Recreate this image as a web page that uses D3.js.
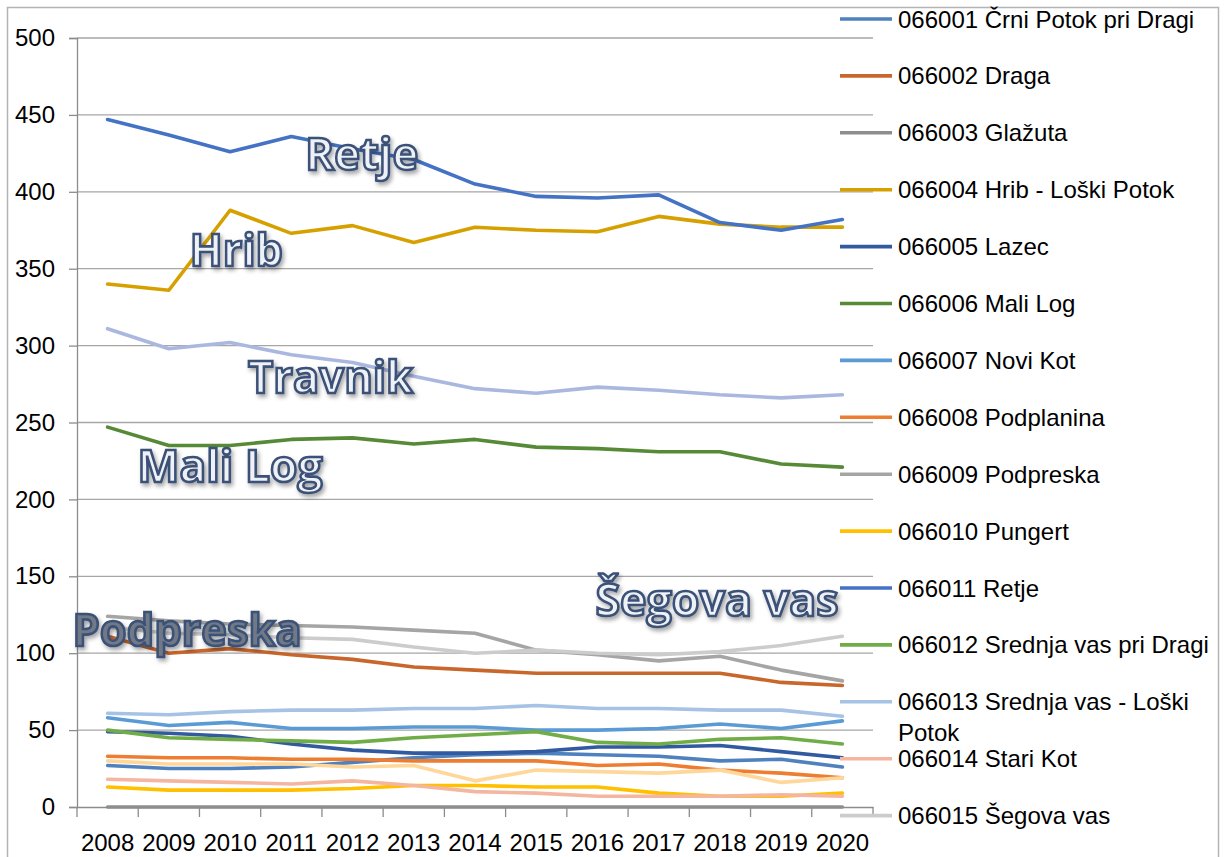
<!DOCTYPE html>
<html>
<head>
  <meta charset="utf-8">
  <title>Prebivalci po naseljih</title>
  <script src="https://cdnjs.cloudflare.com/ajax/libs/d3/7.8.5/d3.min.js"></script>
  <style>
    body { margin: 0; background: #fff; }
    text { font-family: "Liberation Sans", Arial, sans-serif; }
  </style>
</head>
<body>
<svg></svg>
<script>
// --- data ---
var years = [2008, 2009, 2010, 2011, 2012, 2013, 2014, 2015, 2016, 2017, 2018, 2019, 2020];
var yTicks = [0, 50, 100, 150, 200, 250, 300, 350, 400, 450, 500];

var crniPotok   = [27, 25, 25, 26, 29, 32, 34, 35, 34, 33, 30, 31, 26];
var draga       = [111, 100, 103, 99, 96, 91, 89, 87, 87, 87, 87, 81, 79];
var glazuta     = [0, 0, 0, 0, 0, 0, 0, 0, 0, 0, 0, 0, 0];
var hrib        = [340, 336, 388, 373, 378, 367, 377, 375, 374, 384, 379, 377, 377];
var lazec       = [49, 48, 46, 41, 37, 35, 35, 36, 39, 39, 40, 36, 32];
var maliLog     = [247, 235, 235, 239, 240, 236, 239, 234, 233, 231, 231, 223, 221];
var noviKot     = [58, 53, 55, 51, 51, 52, 52, 50, 50, 51, 54, 51, 56];
var podplanina  = [33, 32, 32, 31, 31, 30, 30, 30, 27, 28, 24, 22, 19];
var podpreska   = [124, 121, 119, 118, 117, 115, 113, 102, 99, 95, 98, 89, 82];
var pungert     = [13, 11, 11, 11, 12, 14, 14, 13, 13, 9, 7, 7, 9];
var retje       = [447, 437, 426, 436, 428, 421, 405, 397, 396, 398, 380, 375, 382];
var srednjaPri  = [50, 45, 44, 43, 42, 45, 47, 49, 42, 41, 44, 45, 41];
var srednjaLP   = [61, 60, 62, 63, 63, 64, 64, 66, 64, 64, 63, 63, 59];
var stariKot    = [18, 17, 16, 15, 17, 14, 10, 9, 7, 7, 7, 8, 7];
var segovaVas   = [117, 113, 112, 110, 109, 104, 100, 102, 100, 99, 101, 105, 111];
var trava       = [30, 28, 28, 28, 26, 27, 17, 24, 23, 22, 24, 16, 19];
var travnik     = [311, 298, 302, 294, 289, 280, 272, 269, 273, 271, 268, 266, 268];

var seriesNames = [
  "066001 Črni Potok pri Dragi", "066002 Draga", "066003 Glažuta",
  "066004 Hrib - Loški Potok", "066005 Lazec", "066006 Mali Log",
  "066007 Novi Kot", "066008 Podplanina", "066009 Podpreska",
  "066010 Pungert", "066011 Retje", "066012 Srednja vas pri Dragi",
  "066013 Srednja vas - Loški Potok", "066014 Stari Kot", "066015 Šegova vas",
  "066016 Trava", "066017 Travnik"
];
var seriesValues = [crniPotok, draga, glazuta, hrib, lazec, maliLog, noviKot,
  podplanina, podpreska, pungert, retje, srednjaPri, srednjaLP, stariKot,
  segovaVas, trava, travnik];
var seriesColors = ["#4e81bd", "#c8662b", "#8e8e8e", "#d6a100", "#325aa0", "#568a36",
  "#5b9bd5", "#ed7d31", "#a5a5a5", "#ffc000", "#4472c4", "#70ad47",
  "#a6c3e6", "#f4b6a0", "#cccccc", "#ffd79b", "#aab8e0"];

// WordArt style callouts placed on the chart (year, value of their baseline)
var calloutText  = ["Retje", "Hrib", "Travnik", "Mali Log", "Podpreska", "Šegova vas"];
var calloutYear  = [2011, 2009, 2010, 2008, 2008, 2016];
var calloutValue = [414, 352, 269, 211, 105, 124];

// --- layout ---
var w = 1224, h = 857;
var svg = d3.select("svg").attr("width", w).attr("height", h);

var plotL = 77, plotR = 873, plotT = 38, plotB = 807;
var calloutDx = [14, 21, 18, 30, -35, -2];
var calloutW = [113, 93, 165, 185, 229, 243];

var x = d3.scaleBand().domain(years).range([plotL, plotR]);
var y = d3.scaleLinear().domain([0, 500]).range([plotB, plotT]);

// outer chart border
svg.append("rect")
  .attr("x", 7.5).attr("y", 7.5)
  .attr("width", 1211).attr("height", 900)
  .attr("fill", "none").attr("stroke", "#b4b4b4").attr("stroke-width", 1.5);

var defs = svg.append("defs");
var f = defs.append("filter").attr("id", "shadow")
  .attr("x", "-10%").attr("y", "-20%").attr("width", "130%").attr("height", "150%");
f.append("feDropShadow").attr("dx", 2).attr("dy", 3).attr("stdDeviation", 2)
  .attr("flood-color", "#000").attr("flood-opacity", 0.35);

// gridlines
svg.append("g").selectAll("line")
  .data(yTicks.filter(function(d) { return d > 0; }))
  .enter().append("line")
  .attr("x1", plotL).attr("x2", plotR)
  .attr("y1", function(d) { return y(d); })
  .attr("y2", function(d) { return y(d); })
  .attr("stroke", "#a6a6a6").attr("stroke-width", 1.3);

// y axis
var yAxis = svg.append("g")
  .attr("transform", "translate(" + plotL + ",0)")
  .call(d3.axisLeft(y).tickValues(yTicks).tickSize(8).tickPadding(14));
yAxis.select(".domain").attr("stroke", "#8c8c8c").attr("stroke-width", 1.3);
yAxis.selectAll(".tick line").attr("stroke", "#8c8c8c").attr("stroke-width", 1.3);
yAxis.selectAll(".tick text").attr("font-size", 24).attr("fill", "#000")
  .style("font-family", "'Liberation Sans', Arial, sans-serif");

// x axis
var xAxis = svg.append("g")
  .attr("transform", "translate(0," + plotB + ")")
  .call(d3.axisBottom(x).tickSize(0).tickPadding(27));
xAxis.select(".domain").attr("stroke", "#8c8c8c").attr("stroke-width", 1.3);
xAxis.selectAll(".tick text").attr("font-size", 24).attr("fill", "#000")
  .style("font-family", "'Liberation Sans', Arial, sans-serif");
// tick marks between categories
xAxis.selectAll("line.bound")
  .data(years.concat([null]))
  .enter().append("line")
  .attr("class", "bound")
  .attr("x1", function(d, i) { return plotL + i * x.step(); })
  .attr("x2", function(d, i) { return plotL + i * x.step(); })
  .attr("y1", 0).attr("y2", 10)
  .attr("stroke", "#8c8c8c").attr("stroke-width", 1.3);

// lines
var line = d3.line()
  .x(function(d, i) { return x(years[i]) + x.bandwidth() / 2; })
  .y(function(d) { return y(d); });

svg.append("g").selectAll("path")
  .data(seriesValues)
  .enter().append("path")
  .attr("d", line)
  .attr("fill", "none")
  .attr("stroke", function(d, i) { return seriesColors[i]; })
  .attr("stroke-width", 3.6)
  .attr("stroke-linejoin", "round")
  .attr("stroke-linecap", "round");

// callouts
svg.append("g").selectAll("text")
  .data(calloutText)
  .enter().append("text")
  .attr("x", function(d, i) { return x(calloutYear[i]) + x.bandwidth() / 2 + calloutDx[i]; })
  .attr("y", function(d, i) { return y(calloutValue[i]); })
  .attr("textLength", function(d, i) { return calloutW[i]; })
  .attr("lengthAdjust", "spacingAndGlyphs")
  .attr("font-size", 45)
  .attr("font-weight", "bold")
  .style("font-family", "'Open Sans', 'Noto Sans', sans-serif")
  .attr("fill", function(d) { return d === "Podpreska" ? "#6f7985" : "#eef1f6"; })
  .attr("stroke", "#3b5177")
  .attr("stroke-width", 2.6)
  .attr("filter", "url(#shadow)")
  .text(function(d) { return d; });

// legend (only the rows that fit inside the picture are drawn, as in the original)
var legend = svg.append("g");
var rowH = 56.9, legTop = 19, maxW = 316;
seriesNames.forEach(function(name, i) {
  var cy = legTop + i * rowH;
  if (cy + 20 > h) return;
  legend.append("line")
    .attr("x1", 840).attr("x2", 892)
    .attr("y1", cy).attr("y2", cy)
    .attr("stroke", seriesColors[i]).attr("stroke-width", 3.6);
  var t = legend.append("text")
    .attr("x", 898).attr("y", cy + 8.5)
    .attr("font-size", 24).attr("fill", "#000");
  var words = name.split(" ");
  var tspan = t.append("tspan").attr("x", 898);
  var cur = [];
  words.forEach(function(wd) {
    cur.push(wd);
    tspan.text(cur.join(" "));
    if (tspan.node().getComputedTextLength() > maxW && cur.length > 1) {
      cur.pop();
      tspan.text(cur.join(" "));
      cur = [wd];
      tspan = t.append("tspan").attr("x", 898).attr("dy", 30.5).text(wd);
    }
  });
});
</script>
</body>
</html>
